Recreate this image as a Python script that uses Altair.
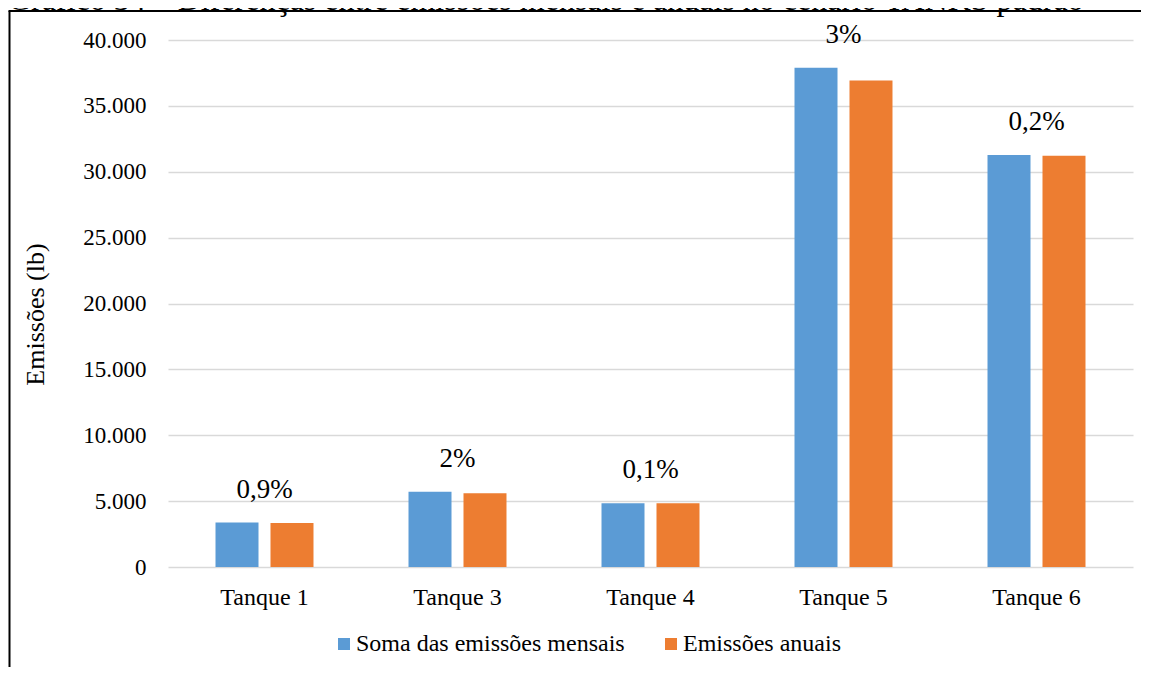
import altair as alt
import pandas as pd

# ---- data ----
categories = ["Tanque 1", "Tanque 3", "Tanque 4", "Tanque 5", "Tanque 6"]
series = ["Soma das emissões mensais", "Emissões anuais"]
soma_mensais = [3370, 5720, 4835, 37900, 31280]
emissoes_anuais = [3340, 5600, 4830, 36920, 31220]
diff_labels = ["0,9%", "2%", "0,1%", "3%", "0,2%"]
y_ticks = [0, 5000, 10000, 15000, 20000, 25000, 30000, 35000, 40000]
caption = "Gráfico 34 – Diferenças entre emissões mensais e anuais no cenário TANKS padrão"
y_title = "Emissões (lb)"
colors = ["#5B9BD5", "#ED7D31"]

FONT = "Liberation Serif"
W, H = 965, 527

rows = []
for c, m, a in zip(categories, soma_mensais, emissoes_anuais):
    rows.append({"cat": c, "serie": series[0], "valor": m})
    rows.append({"cat": c, "serie": series[1], "valor": a})
df = pd.DataFrame(rows)

lab = pd.DataFrame({
    "cat": categories,
    "label": diff_labels,
    "top": [max(m, a) for m, a in zip(soma_mensais, emissoes_anuais)],
})

x_enc = alt.X(
    "cat:N", sort=categories,
    scale=alt.Scale(paddingInner=0, paddingOuter=0),
    axis=alt.Axis(title=None, labelFontSize=24, labelFont=FONT, labelColor="#000000",
                  labelPadding=18, domain=False, ticks=False, labelAngle=0, grid=False),
)
y_scale = alt.Scale(domain=[0, 40000], nice=False)

bars = alt.Chart(df).mark_bar().encode(
    x=x_enc,
    xOffset=alt.XOffset("serie:N", sort=series,
                        scale=alt.Scale(paddingInner=0.218, paddingOuter=0.864)),
    y=alt.Y("valor:Q", scale=y_scale,
            axis=alt.Axis(values=y_ticks, title=y_title,
                          labelExpr="replace(format(datum.value, ','), ',', '.')",
                          labelFontSize=23, labelFont=FONT, labelColor="#000000",
                          labelPadding=22, ticks=False, domain=False,
                          grid=True, gridColor="#D9D9D9", gridWidth=1.5,
                          titleFont=FONT, titleFontSize=26, titleFontWeight="normal",
                          titleColor="#000000", titleX=-133, titleY=274,
                          titleAngle=-90, titleBaseline="middle", titleAlign="center")),
    color=alt.Color("serie:N", sort=series,
                    scale=alt.Scale(domain=series, range=colors),
                    legend=alt.Legend(title=None, orient="none", direction="horizontal",
                                      legendX=164, legendY=592,
                                      symbolType="square", symbolSize=144,
                                      symbolStrokeWidth=0, labelOffset=0,
                                      columnPadding=34,
                                      labelFont=FONT, labelFontSize=24,
                                      labelColor="#000000", labelLimit=400)),
)

labels = alt.Chart(lab).mark_text(
    font=FONT, fontSize=27, color="#000000", baseline="alphabetic", dy=-25
).encode(
    x=alt.X("cat:N", sort=categories),
    y=alt.Y("top:Q", scale=y_scale),
    text="label:N",
)

frame_src = pd.DataFrame({"k": [0]})
left_border = alt.Chart(frame_src).mark_rule(color="#000000", strokeWidth=2).encode(
    x=alt.value(-158.5), y=alt.value(-29), y2=alt.value(H + 140)
)
top_border = alt.Chart(frame_src).mark_rule(color="#000000", strokeWidth=2).encode(
    x=alt.value(-159.5), x2=alt.value(W + 40), y=alt.value(-29)
)
cap = alt.Chart(frame_src).mark_text(
    font=FONT, fontSize=32, color="#000000", align="left", baseline="alphabetic"
).encode(x=alt.value(-160), y=alt.value(-30), text=alt.value(caption))

chart = alt.layer(bars, labels, left_border, top_border, cap).properties(
    width=W, height=H,
    autosize=alt.AutoSizeParams(type="none"),
    padding={"left": 160, "top": 32, "right": 8, "bottom": 100},
).configure(
    background="white", font=FONT
).configure_view(
    stroke=None
).configure_text(
    font=FONT
).configure_legend(
    labelFont=FONT
).configure_axis(
    labelFont=FONT, titleFont=FONT
)

chart.save("out.html", embed_options={"renderer": "svg", "actions": False})
